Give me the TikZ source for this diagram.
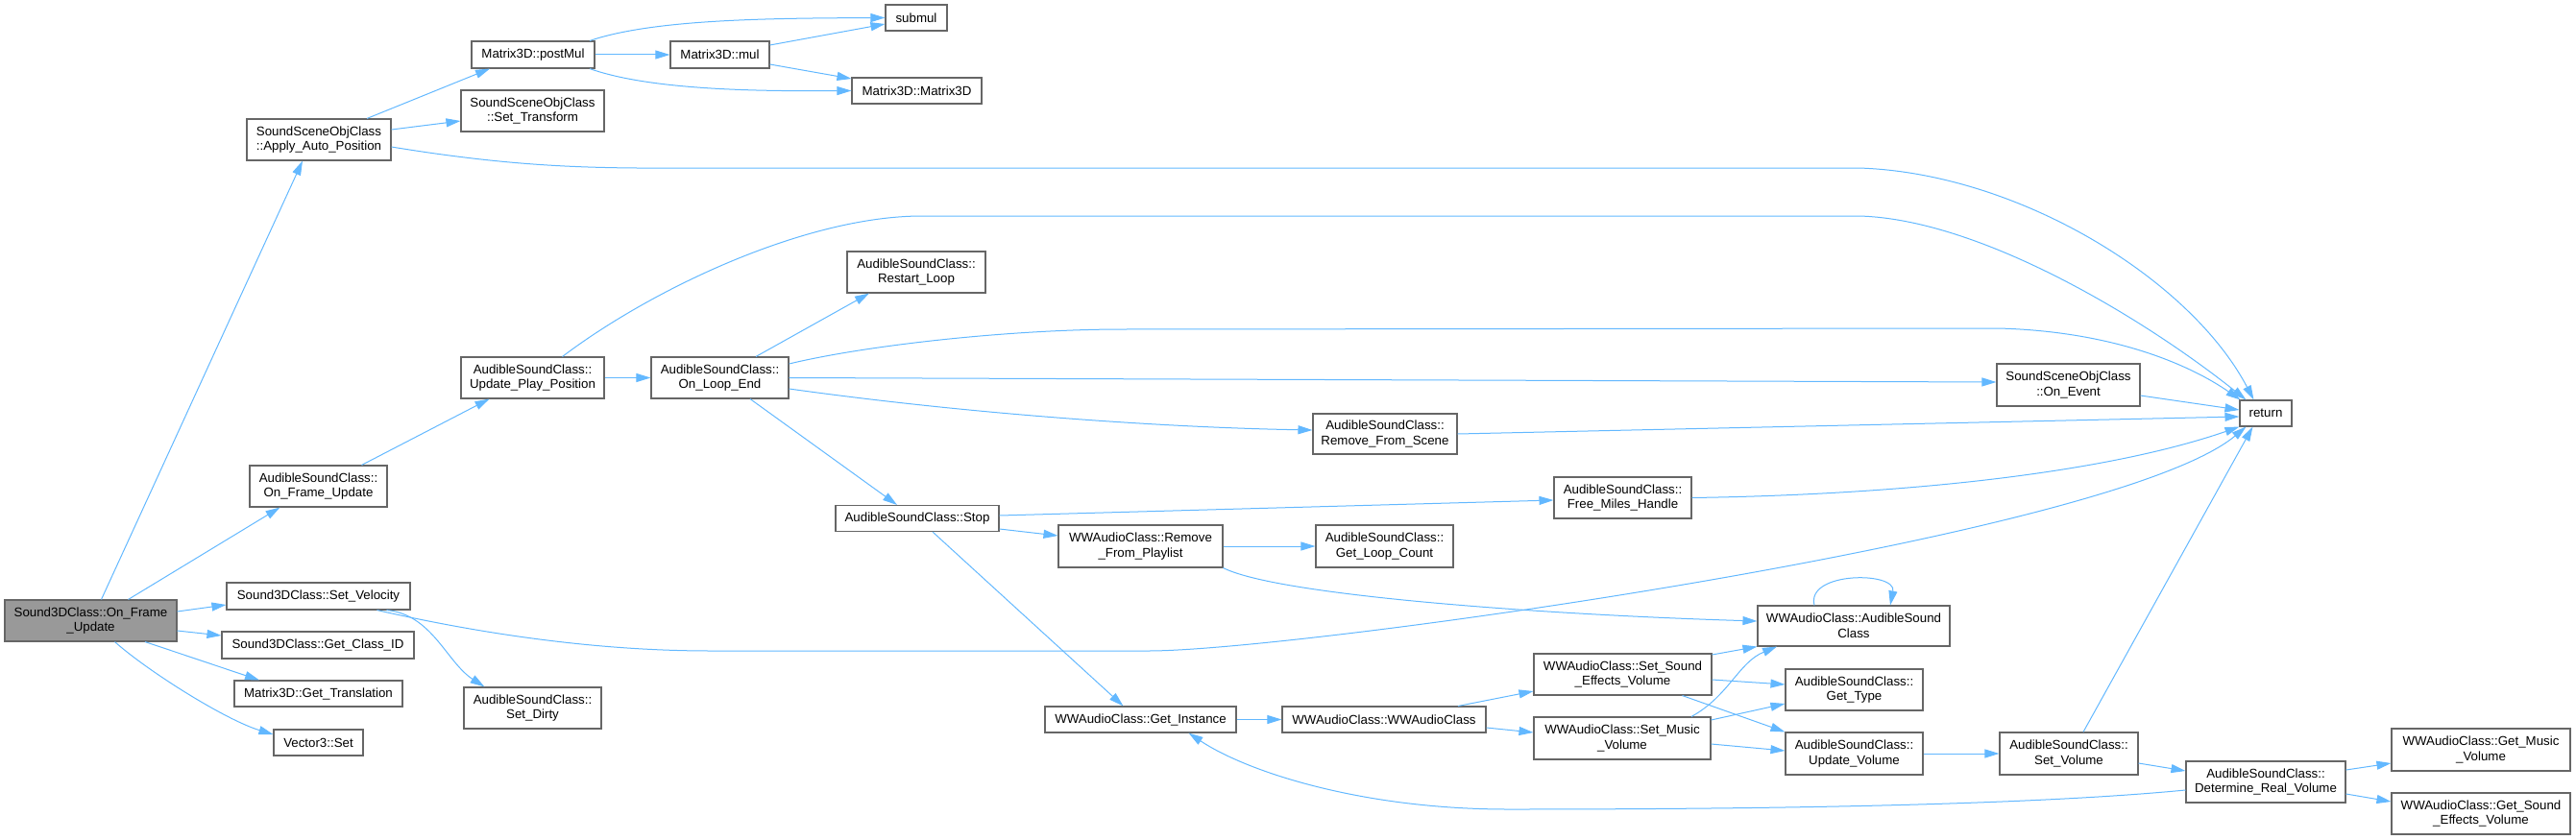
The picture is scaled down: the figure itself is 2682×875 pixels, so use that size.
\documentclass[tikz,border=0pt]{standalone}
\usepackage{fontspec}
\setmainfont{Liberation Sans}
\usetikzlibrary{arrows.meta}
\definecolor{edgeblue}{HTML}{63B8FF}
\definecolor{boxgray}{HTML}{666666}
\definecolor{mainfill}{HTML}{999999}
\newcommand\nodefont{\fontsize{13.3}{15.6}\selectfont}
\tikzset{
  fn/.style={draw=boxgray, fill=white, line width=1.1pt, inner sep=0pt, align=center, font=\nodefont},
  mainfn/.style={fn, fill=mainfill},
  call/.style={draw=edgeblue, line width=1pt, -{Triangle[length=15pt,width=9pt]}},
}
\begin{document}
\begin{tikzpicture}[x=1pt,y=-1pt]
\useasboundingbox (0,0) rectangle (2682,875);
% nodes
\node[mainfn, minimum width=179pt, minimum height=43pt] (main) at (94.5,646.5) {Sound3DClass::On\_Frame\\\_Update};
\node[fn, minimum width=150pt, minimum height=43pt] (aap) at (332,145.5) {SoundSceneObjClass\\::Apply\_Auto\_Position};
\node[fn, minimum width=143pt, minimum height=43pt] (afu) at (331.5,506.5) {AudibleSoundClass::\\On\_Frame\_Update};
\node[fn, minimum width=191pt, minimum height=28pt] (sv) at (331.5,621) {Sound3DClass::Set\_Velocity};
\node[fn, minimum width=200pt, minimum height=28pt] (gci) at (331,672) {Sound3DClass::Get\_Class\_ID};
\node[fn, minimum width=175pt, minimum height=27pt] (gt) at (331.5,722.5) {Matrix3D::Get\_Translation};
\node[fn, minimum width=93pt, minimum height=27pt] (vs) at (331.5,773.5) {Vector3::Set};
\node[fn, minimum width=128pt, minimum height=28pt] (pm) at (555,57) {Matrix3D::postMul};
\node[fn, minimum width=149pt, minimum height=43pt] (st) at (554.5,115.5) {SoundSceneObjClass\\::Set\_Transform};
\node[fn, minimum width=149pt, minimum height=43pt] (upp) at (554.5,393.5) {AudibleSoundClass::\\Update\_Play\_Position};
\node[fn, minimum width=143pt, minimum height=43pt] (sd) at (554.5,737.5) {AudibleSoundClass::\\Set\_Dirty};
\node[fn, minimum width=103pt, minimum height=28pt] (mul) at (749.5,57) {Matrix3D::mul};
\node[fn, minimum width=143pt, minimum height=43pt] (ole) at (749.5,393.5) {AudibleSoundClass::\\On\_Loop\_End};
\node[fn, minimum width=64pt, minimum height=27pt] (submul) at (954,18.5) {submul};
\node[fn, minimum width=135pt, minimum height=27pt] (m3d) at (954.5,94.5) {Matrix3D::Matrix3D};
\node[fn, minimum width=144pt, minimum height=43pt] (rl) at (954,283.5) {AudibleSoundClass::\\Restart\_Loop};
\node[fn, minimum width=170pt, minimum height=27pt] (stop) at (955,540) {AudibleSoundClass::Stop};
\node[fn, minimum width=150pt, minimum height=42pt] (rfs) at (1442,452) {AudibleSoundClass::\\Remove\_From\_Scene};
\node[fn, minimum width=171pt, minimum height=44pt] (rfp) at (1187.5,569) {WWAudioClass::Remove\\\_From\_Playlist};
\node[fn, minimum width=143pt, minimum height=44pt] (glc) at (1441.5,569) {AudibleSoundClass::\\Get\_Loop\_Count};
\node[fn, minimum width=199pt, minimum height=27pt] (gi) at (1187.5,749.5) {WWAudioClass::Get\_Instance};
\node[fn, minimum width=212pt, minimum height=27pt] (wwa) at (1441,749.5) {WWAudioClass::WWAudioClass};
\node[fn, minimum width=143pt, minimum height=43pt] (fmh) at (1689.5,518.5) {AudibleSoundClass::\\Free\_Miles\_Handle};
\node[fn, minimum width=185pt, minimum height=43pt] (ssev) at (1689.5,702.5) {WWAudioClass::Set\_Sound\\\_Effects\_Volume};
\node[fn, minimum width=184pt, minimum height=44pt] (smv) at (1689,769) {WWAudioClass::Set\_Music\\\_Volume};
\node[fn, minimum width=149pt, minimum height=44pt] (oe) at (2153.5,401) {SoundSceneObjClass\\::On\_Event};
\node[fn, minimum width=200pt, minimum height=42pt] (asc) at (1930,652) {WWAudioClass::AudibleSound\\Class};
\node[fn, minimum width=143pt, minimum height=43pt] (gty) at (1930.5,718.5) {AudibleSoundClass::\\Get\_Type};
\node[fn, minimum width=143pt, minimum height=44pt] (uv) at (1930.5,785) {AudibleSoundClass::\\Update\_Volume};
\node[fn, minimum width=144pt, minimum height=44pt] (svol) at (2154,785) {AudibleSoundClass::\\Set\_Volume};
\node[fn, minimum width=54pt, minimum height=27pt] (ret) at (2359,430.5) {return};
\node[fn, minimum width=166pt, minimum height=43pt] (drv) at (2359,814.5) {AudibleSoundClass::\\Determine\_Real\_Volume};
\node[fn, minimum width=186pt, minimum height=44pt] (gmv) at (2583,781) {WWAudioClass::Get\_Music\\\_Volume};
\node[fn, minimum width=186pt, minimum height=43pt] (gsev) at (2583,847.5) {WWAudioClass::Get\_Sound\\\_Effects\_Volume};
% edges
\draw[call] ([xshift=11pt]main.north) -- ([xshift=-17pt]aap.south);
\draw[call] ([xshift=39pt]main.north) -- ([xshift=-40pt]afu.south);
\draw[call] ([yshift=9.5pt]main.east) -- ([yshift=-9pt]sv.west);
\draw[call] ([yshift=-10.5pt]main.east) -- ([yshift=10pt]gci.west);
\draw[call] ([xshift=56.5pt]main.south) -- ([xshift=-61.5pt]gt.north);
\draw[call] ([xshift=25pt]main.south) .. controls (155,700) and (235,750) .. ([yshift=8.5pt]vs.west);
\draw[call] ([xshift=50pt]aap.north) -- ([xshift=-45pt]pm.south);
\draw[call] ([yshift=10.5pt]aap.east) -- ([yshift=-10.5pt]st.west);
\draw[call] ([yshift=-7.5pt]aap.east) .. controls (560,178) and (640,175) .. (760,175) -- (1935,175)
   .. controls (2100,180) and (2280,290) .. ([xshift=15pt]ret.north west);
\draw[call] ([xshift=59pt]pm.north) .. controls (680,20) and (800,19) .. (submul.west);
\draw[call] (pm) -- (mul);
\draw[call] ([xshift=59pt]pm.south) .. controls (680,95) and (800,95) .. (m3d.west);
\draw[call] ([yshift=10pt]mul.east) -- ([yshift=-6.5pt]submul.west);
\draw[call] ([yshift=-10pt]mul.east) -- ([yshift=12.5pt]m3d.west);
\draw[call] ([xshift=45pt]afu.north) -- ([xshift=-45pt]upp.south);
\draw[call] (upp) -- (ole);
\draw[call] ([xshift=31pt]upp.north) .. controls (680,300) and (840,225) .. (960,225) -- (1935,225)
   .. controls (2060,228) and (2230,330) .. ([xshift=7pt]ret.north west);
\draw[call] ([xshift=37.5pt]ole.north) -- ([xshift=-49pt]rl.south);
\draw[call] ([yshift=14.5pt]ole.east) .. controls (900,360) and (1050,343) .. (1170,343) -- (2080,342)
   .. controls (2200,345) and (2280,380) .. ([xshift=1pt]ret.north west);
\draw[call] (ole.east) -- ([yshift=3pt]oe.west);
\draw[call] ([yshift=-11.5pt]ole.east) .. controls (1000,430) and (1200,445) .. ([yshift=4pt]rfs.west);
\draw[call] ([xshift=31.5pt]ole.south) -- ([xshift=-21pt]stop.north);
\draw[call] ([yshift=-11pt]oe.east) -- ([yshift=3.5pt]ret.west);
\draw[call] (rfs.east) -- ([yshift=-3.5pt]ret.west);
\draw[call] ([yshift=3pt]stop.east) -- ([yshift=-2.5pt]fmh.west);
\draw[call] ([yshift=-11pt]stop.east) -- ([yshift=11pt]rfp.west);
\draw[call] ([xshift=16pt]stop.south) -- ([xshift=-18pt]gi.north);
\draw[call] (fmh.east) .. controls (2000,515) and (2200,490) .. (ret.south west);
\draw[call] (rfp) -- (glc);
\draw[call] (rfp.south east) .. controls (1330,620) and (1600,640) .. ([yshift=5pt]asc.west);
\draw[call] ([xshift=-41pt]asc.north) .. controls (1880,595) and (1975,595) .. ([xshift=38pt]asc.north);
\draw[call] ([xshift=71pt]sv.south) .. controls (450,640) and (465,690) .. ([xshift=-50pt]sd.north);
\draw[call] ([xshift=61pt]sv.south) .. controls (500,660) and (620,678) .. (740,678) -- (1196,678)
   .. controls (1350,678) and (2200,560) .. ([xshift=7pt]ret.south west);
\draw[call] (gi) -- (wwa);
\draw[call] ([xshift=77pt]wwa.north) -- ([yshift=-17.5pt]ssev.west);
\draw[call] ([yshift=-8.5pt]wwa.east) -- ([yshift=6pt]smv.west);
\draw[call] ([yshift=20.5pt]ssev.east) -- (asc.south west);
\draw[call] ([yshift=-5.5pt]ssev.east) -- ([yshift=5.5pt]gty.west);
\draw[call] ([xshift=62pt]ssev.south) -- (uv.north west);
\draw[call] ([xshift=72pt]smv.north) .. controls (1800,725) and (1810,690) .. ([xshift=-80pt]asc.south);
\draw[call] ([yshift=19pt]smv.east) -- ([yshift=-14.5pt]gty.west);
\draw[call] ([yshift=-6pt]smv.east) -- ([yshift=3pt]uv.west);
\draw[call] (uv) -- (svol);
\draw[call] ([xshift=15pt]svol.north) -- ([xshift=14pt]ret.south west);
\draw[call] ([yshift=-10pt]svol.east) -- ([yshift=11.5pt]drv.west);
\draw[call] ([yshift=12.5pt]drv.east) -- ([yshift=-14pt]gmv.west);
\draw[call] ([yshift=-12.5pt]drv.east) -- ([yshift=12.5pt]gsev.west);
\draw[call] ([yshift=-8.5pt]drv.west) .. controls (2100,840) and (1800,843) .. (1570,843)
   .. controls (1420,843) and (1300,805) .. ([xshift=50pt]gi.south);
\end{tikzpicture}
\end{document}
